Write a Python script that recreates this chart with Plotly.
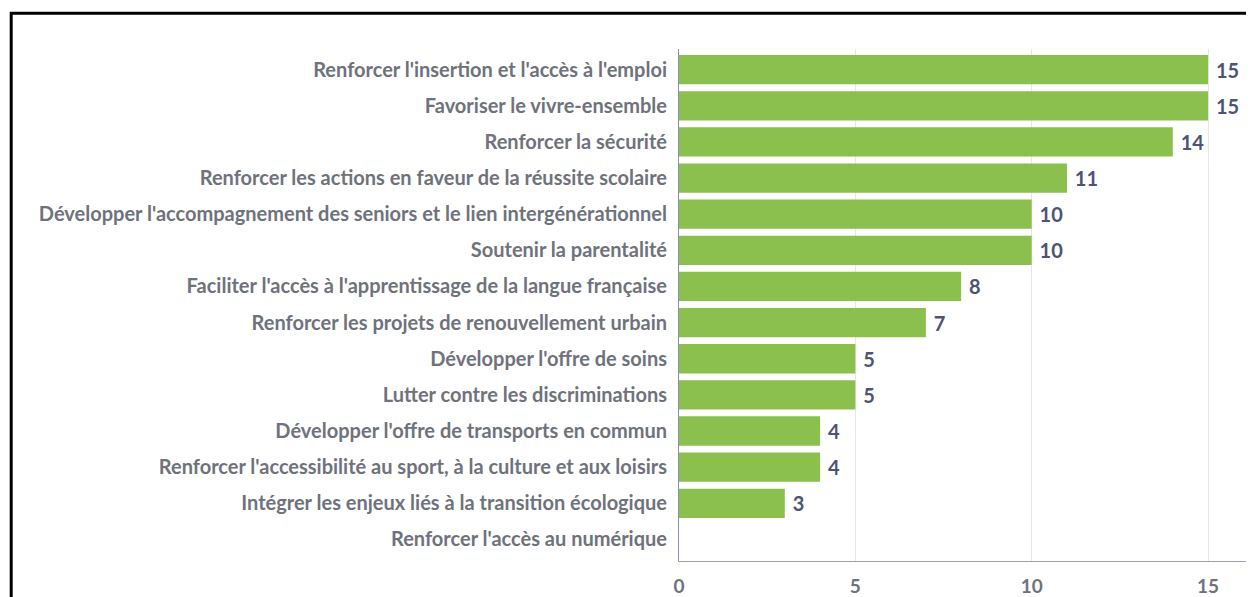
import plotly.graph_objects as go

categories = [
    "Renforcer l'insertion et l'accès à l'emploi",
    "Favoriser le vivre-ensemble",
    "Renforcer la sécurité",
    "Renforcer les actions en faveur de la réussite scolaire",
    "Développer l'accompagnement des seniors et le lien intergénérationnel",
    "Soutenir la parentalité",
    "Faciliter l'accès à l'apprentissage de la langue française",
    "Renforcer les projets de renouvellement urbain",
    "Développer l'offre de soins",
    "Lutter contre les discriminations",
    "Développer l'offre de transports en commun",
    "Renforcer l'accessibilité au sport, à la culture et aux loisirs",
    "Intégrer les enjeux liés à la transition écologique",
    "Renforcer l'accès au numérique",
]
values = [15, 15, 14, 11, 10, 10, 8, 7, 5, 5, 4, 4, 3, 0]
x_ticks = [0, 5, 10, 15]

# page body adds 8px, so the figure is a bit smaller than the window
W, H = 1246, 589
L, R, T, B = 671, 0, 41, 36
pw, ph = W - L - R, H - T - B
px_per_unit = 35.27
row_px = 36.13
y_top = -0.573


def px_to_paper(px, py):
    return (px - L) / pw, 1 - (py - T) / ph


fig = go.Figure(go.Bar(
    x=values,
    y=categories,
    orientation='h',
    marker=dict(color='#8bc04f', line=dict(width=0)),
    text=[" " + str(v) if v else "" for v in values],
    textposition='outside',
    textfont=dict(family="Lato", size=20, color='#4b5475', weight=700),
    cliponaxis=False,
))

bx0, by0 = px_to_paper(3.2, 5.2)
bx1, by1 = px_to_paper(W + 20, H + 20)

fig.update_layout(
    width=W, height=H,
    margin=dict(l=L, r=R, t=T, b=B, autoexpand=False),
    paper_bgcolor='white',
    plot_bgcolor='white',
    bargap=0.19,
    showlegend=False,
    font=dict(family="Lato", size=20, color='#6e727c', weight=700),
    xaxis=dict(
        range=[0, pw / px_per_unit],
        tickvals=x_ticks,
        tickfont=dict(size=19),
        showgrid=True, gridcolor='#e6e6e6', gridwidth=1,
        showline=True, linecolor='#9aa0b0', linewidth=1,
        zeroline=False,
        ticks='', ticklabelstandoff=8,
    ),
    yaxis=dict(
        range=[y_top + ph / row_px, y_top],
        showline=True, linecolor='#8a90a6', linewidth=1,
        showgrid=False,
        ticks='', ticklabelstandoff=7,
    ),
    shapes=[dict(
        type='rect', xref='paper', yref='paper',
        x0=bx0, y0=by0, x1=bx1, y1=by1,
        line=dict(color='black', width=3),
        fillcolor='rgba(0,0,0,0)', layer='above',
    )],
)

fig.write_html("out.html")
